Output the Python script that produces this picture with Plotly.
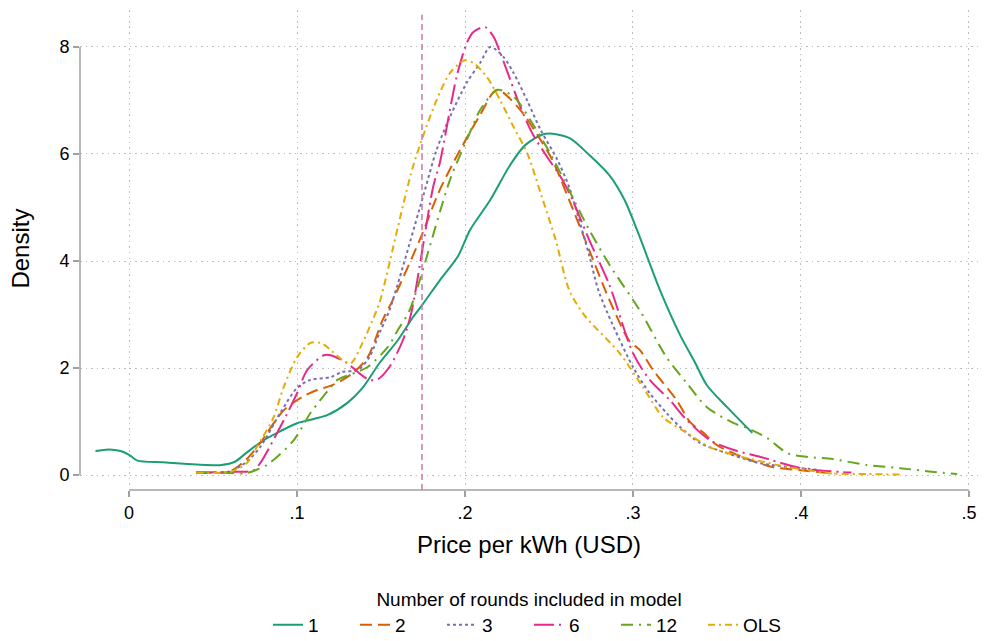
import plotly.graph_objects as go

# ---- data ----
x_1 = [-0.02, -0.012, -0.005, 0.0, 0.005, 0.02, 0.04, 0.055, 0.063, 0.07, 0.08, 0.09, 0.1, 0.11, 0.118, 0.13,
       0.139, 0.149, 0.16, 0.169, 0.175, 0.185, 0.196, 0.203, 0.215, 0.227, 0.236, 0.248, 0.262, 0.274,
       0.286, 0.295, 0.304, 0.316, 0.328, 0.337, 0.344, 0.356, 0.371]
y_1 = [0.45, 0.48, 0.45, 0.38, 0.27, 0.24, 0.2, 0.19, 0.25, 0.42, 0.65, 0.82, 0.97, 1.05, 1.12, 1.35,
       1.63, 2.09, 2.52, 2.95, 3.2, 3.64, 4.1, 4.58, 5.14, 5.8, 6.17, 6.38, 6.3, 5.98,
       5.6, 5.14, 4.45, 3.46, 2.62, 2.1, 1.68, 1.27, 0.79]

x_2 = [0.04, 0.06, 0.07, 0.078, 0.092, 0.103, 0.112, 0.121, 0.133, 0.142, 0.151, 0.157, 0.173, 0.185,
       0.197, 0.209, 0.219, 0.233, 0.245, 0.252, 0.262, 0.274, 0.286, 0.298, 0.304, 0.312, 0.326, 0.334,
       0.342, 0.35, 0.365, 0.383, 0.4, 0.42]
y_2 = [0.05, 0.07, 0.3, 0.6, 1.21, 1.46, 1.59, 1.68, 1.9, 2.2, 2.9, 3.27, 4.39, 5.33,
       6.07, 6.73, 7.2, 6.82, 6.26, 5.89, 5.14, 4.2, 3.27, 2.5, 2.34, 1.96, 1.4, 0.99,
       0.79, 0.56, 0.34, 0.15, 0.09, 0.03]

x_3 = [0.04, 0.06, 0.07, 0.078, 0.09, 0.1, 0.108, 0.12, 0.127, 0.136, 0.143, 0.149, 0.155, 0.175, 0.183,
       0.191, 0.201, 0.209, 0.215, 0.223, 0.229, 0.237, 0.245, 0.255, 0.262, 0.274, 0.28, 0.3, 0.31,
       0.32, 0.328, 0.34, 0.356, 0.376, 0.4, 0.41]
y_3 = [0.05, 0.07, 0.25, 0.52, 1.16, 1.63, 1.78, 1.83, 1.93, 1.96, 2.2, 2.65, 3.08, 5.2, 6.07,
       6.69, 7.33, 7.7, 8.0, 7.81, 7.51, 7.0, 6.45, 5.89, 5.38, 4.1, 3.4, 2.02, 1.53,
       1.16, 0.9, 0.6, 0.41, 0.22, 0.13, 0.1]

x_6 = [0.04, 0.06, 0.074, 0.078, 0.093, 0.1, 0.106, 0.116, 0.12, 0.13, 0.136, 0.143, 0.148, 0.155, 0.163,
       0.168, 0.181, 0.185, 0.191, 0.195, 0.201, 0.205, 0.212, 0.217, 0.221, 0.227, 0.233, 0.24, 0.249,
       0.257, 0.264, 0.274, 0.286, 0.3, 0.31, 0.322, 0.332, 0.346, 0.36, 0.376, 0.4, 0.423, 0.43]
y_6 = [0.05, 0.06, 0.09, 0.22, 1.08, 1.53, 1.96, 2.24, 2.24, 2.09, 1.93, 1.78, 1.79, 2.02, 2.52,
       3.03, 5.38, 5.83, 6.82, 7.44, 8.07, 8.28, 8.37, 8.19, 7.89, 7.38, 6.88, 6.39, 5.94,
       5.57, 5.14, 4.39, 3.55, 2.28, 1.78, 1.4, 1.03, 0.65, 0.47, 0.34, 0.13, 0.06, 0.05]

x_12 = [0.04, 0.06, 0.07, 0.082, 0.098, 0.108, 0.12, 0.124, 0.136, 0.142, 0.154, 0.16, 0.167, 0.191,
        0.201, 0.209, 0.217, 0.22, 0.229, 0.24, 0.252, 0.261, 0.274, 0.286, 0.304, 0.32, 0.332, 0.344,
        0.36, 0.368, 0.38, 0.392, 0.404, 0.419, 0.439, 0.459, 0.479, 0.493]
y_12 = [0.05, 0.04, 0.04, 0.19, 0.65, 1.16, 1.64, 1.78, 1.93, 2.02, 2.39, 2.71, 3.08, 5.51,
        6.26, 6.82, 7.15, 7.2, 7.07, 6.58, 5.94, 5.38, 4.58, 3.93, 3.08, 2.2, 1.72, 1.27,
        0.97, 0.88, 0.69, 0.41, 0.34, 0.3, 0.19, 0.13, 0.06, 0.02]

x_ols = [0.04, 0.06, 0.07, 0.076, 0.086, 0.092, 0.1, 0.108, 0.114, 0.12, 0.127, 0.132, 0.139, 0.145,
         0.149, 0.169, 0.183, 0.191, 0.197, 0.2, 0.205, 0.213, 0.221, 0.229, 0.237, 0.245, 0.254, 0.262,
         0.271, 0.292, 0.306, 0.318, 0.332, 0.346, 0.365, 0.386, 0.404, 0.419, 0.44, 0.46]
y_ols = [0.05, 0.06, 0.22, 0.52, 1.08, 1.64, 2.2, 2.47, 2.47, 2.34, 2.15, 2.09, 2.47, 2.9,
         3.21, 5.76, 7.0, 7.51, 7.7, 7.75, 7.7, 7.44, 7.0, 6.5, 6.02, 5.27, 4.39, 3.46,
         2.99, 2.28, 1.64, 1.08, 0.79, 0.52, 0.34, 0.19, 0.09, 0.03, 0.02, 0.01]

series_names = ["1", "2", "3", "6", "12", "OLS"]
series_x = [x_1, x_2, x_3, x_6, x_12, x_ols]
series_y = [y_1, y_2, y_3, y_6, y_12, y_ols]

x_tickvals = [0, 0.1, 0.2, 0.3, 0.4, 0.5]
x_ticktext = ["0", ".1", ".2", ".3", ".4", ".5"]
y_tickvals = [0, 2, 4, 6, 8]
ref_line_x = 0.1744

# ---- styles ----
colors = ["#1b9e77", "#d95f02", "#7570b3", "#e7298a", "#66a61e", "#e6ab02"]
dashes = ["solid", "12px,6px", "3px,3px", "20px,5px,2px,5px", "12px,6px,2px,6px", "7px,4px,2px,4px"]

FONT = "Liberation Sans, Arial, sans-serif"

fig = go.Figure()
for name, xs, ys, c, d in zip(series_names, series_x, series_y, colors, dashes):
    fig.add_trace(go.Scatter(
        x=xs, y=ys, mode="lines", name=name,
        line=dict(color=c, width=2, dash=d, shape="spline", smoothing=0.8),
    ))

XMIN, XMAX = -0.0292, 0.5054
YMIN, YMAX = -0.224, 8.69

# vertical reference line
fig.add_shape(type="line", xref="x", yref="paper", x0=ref_line_x, x1=ref_line_x, y0=0.0, y1=0.99,
              line=dict(color="#cc79a7", width=1.5, dash="6px,4px"))
# axis lines spanning tick range only
fig.add_shape(type="line", xref="paper", yref="y", x0=0, x1=0, y0=0, y1=8,
              line=dict(color="#a0a0a0", width=1.5))
fig.add_shape(type="line", xref="x", yref="paper", x0=0, x1=0.5, y0=0, y1=0,
              line=dict(color="#a0a0a0", width=1.5))

GRID = dict(showgrid=True, gridcolor="#bdbdbd", griddash="1.5px,4px", gridwidth=1)

fig.update_layout(
    width=984, height=641,
    margin=dict(l=80, r=6, t=10, b=151, autoexpand=False),
    paper_bgcolor="white", plot_bgcolor="white",
    font=dict(family=FONT, color="black", size=16),
    xaxis=dict(
        range=[XMIN, XMAX], tickvals=x_tickvals, ticktext=x_ticktext,
        showline=False, zeroline=False, automargin=False,
        ticks="outside", ticklen=6, tickcolor="#a0a0a0", tickwidth=1.5,
        tickfont=dict(size=18, family=FONT),
        title=dict(text="Price per kWh (USD)", font=dict(size=24, family=FONT), standoff=14),
        anchor="free", position=0, **GRID,
    ),
    yaxis=dict(
        range=[YMIN, YMAX], tickvals=y_tickvals,
        domain=[0.006, 1],
        showline=False, zeroline=False, automargin=False,
        ticks="outside", ticklen=6, tickcolor="#a0a0a0", tickwidth=1.5,
        tickfont=dict(size=18, family=FONT),
        title=dict(text="Density", font=dict(size=24, family=FONT), standoff=22),
        **GRID,
    ),
    legend=dict(
        orientation="h", x=0.5, xanchor="center", y=-0.19, yanchor="top",
        title=dict(text="Number of rounds included in model", side="top center",
                   font=dict(size=19, family=FONT)),
        font=dict(size=19, family=FONT),
        itemwidth=30, entrywidth=42, entrywidthmode="pixels",
        bgcolor="rgba(0,0,0,0)",
    ),
)

fig.write_html("out.html")
